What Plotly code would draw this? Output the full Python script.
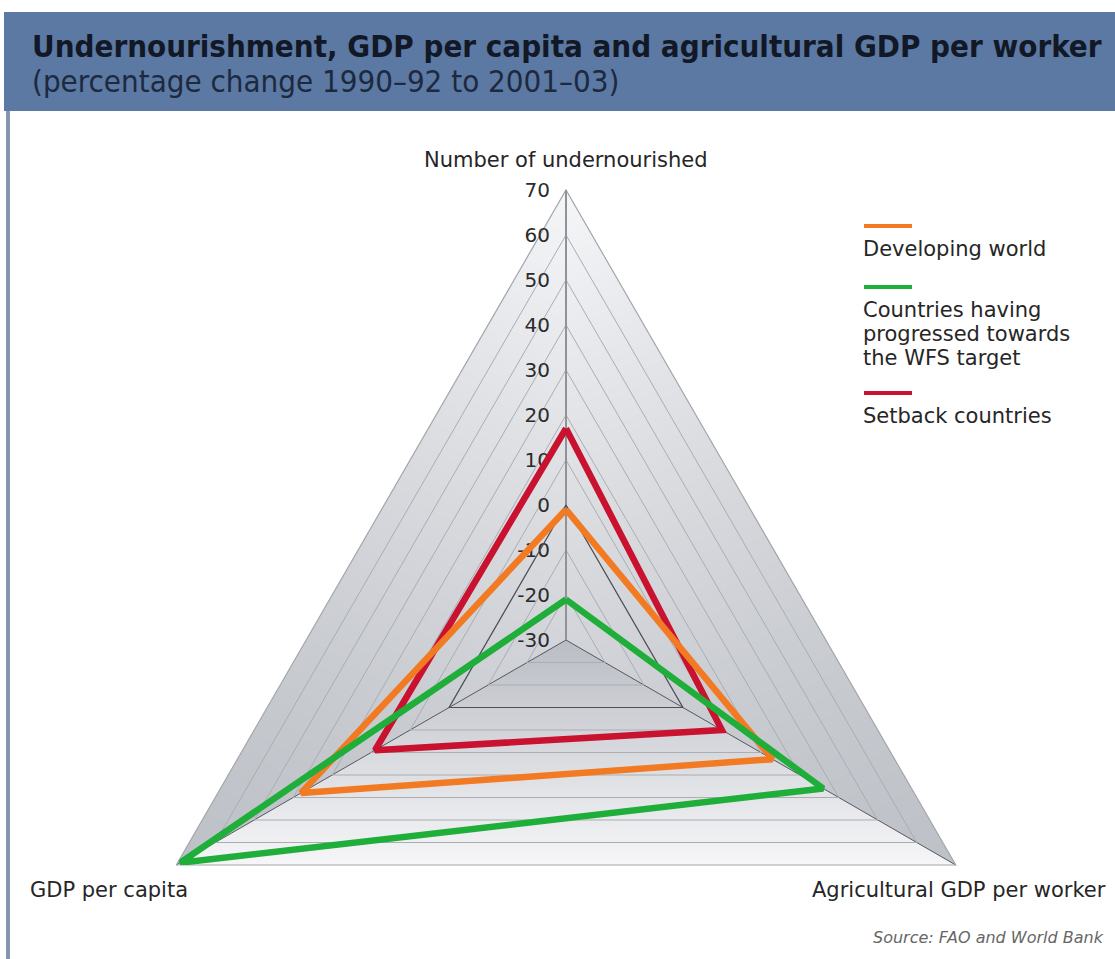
import base64
import struct
import zlib

import numpy as np
import plotly.graph_objects as go

# Radar axes, clockwise from the top
categories = ["Number of undernourished", "Agricultural GDP per worker", "GDP per capita"]

# Percentage change 1990-92 to 2001-03, one value per axis
developing_world = [-1, 23, 38]
progressed_wfs = [-21, 36, 69]
setback_countries = [17, 10, 19]

series_names = [
    "Developing world",
    "Countries having<br>progressed towards<br>the WFS target",
    "Setback countries",
]
radial_ticks = list(range(-30, 71, 10))
radial_tick_text = [str(v) for v in radial_ticks]

# Page geometry (pixels)
W, H = 1115, 1100
CX, CY, R = 566, 640, 450

COLORS = {"orange": "#f27a22", "green": "#1fae3a", "red": "#c8122f"}
LABEL_FONT = dict(family="DejaVu Sans", size=21, color="#262626")


def px_x(px):
    return px / W


def px_y(py):
    return 1 - py / H


def png_data_uri(rgba):
    h, w, _ = rgba.shape
    raw = b"".join(b"\x00" + rgba[row].tobytes() for row in range(h))

    def chunk(tag, data):
        body = tag + data
        return struct.pack(">I", len(data)) + body + struct.pack(">I", zlib.crc32(body) & 0xFFFFFFFF)

    png = (b"\x89PNG\r\n\x1a\n"
           + chunk(b"IHDR", struct.pack(">IIBBBBB", w, h, 8, 6, 0, 0, 0))
           + chunk(b"IDAT", zlib.compress(raw, 9))
           + chunk(b"IEND", b""))
    return "data:image/png;base64," + base64.b64encode(png).decode()


def plot_area_shading():
    """Grey shading of the triangular plot area, one gradient per sector."""
    c30 = np.sqrt(3) / 2
    x0, y0 = CX - 391, CY - R - 1
    w, h = 782, int(1.5 * R) + 3
    X, Y = np.meshgrid(x0 + np.arange(w) + 0.5 - CX, CY - (y0 + np.arange(h) + 0.5))
    edge = np.maximum.reduce([-Y, X * c30 + Y * 0.5, -X * c30 + Y * 0.5])
    alpha = np.clip(R / 2 - edge + 0.5, 0, 1)
    ang = np.degrees(np.arctan2(Y, X)) % 360
    bottom = (ang >= 210) & (ang < 330)
    left = (ang >= 90) & (ang < 210)
    t_bottom = np.clip(-Y / (R / 2), 0, 1)
    along = np.where(left, 0.5 * X + c30 * Y, -0.5 * X + c30 * Y)
    t_side = np.clip((along / (R * c30) + 1) / 2, 0, 1) ** 1.4
    dark_b, light_b = np.array([186, 189, 196]), np.array([246, 246, 248])
    dark_s, light_s = np.array([190, 193, 199]), np.array([245, 246, 248])
    col = np.where(bottom[..., None],
                   dark_b + (light_b - dark_b) * t_bottom[..., None],
                   dark_s + (light_s - dark_s) * t_side[..., None])
    rgba = np.dstack([col, alpha * 255]).round().clip(0, 255).astype(np.uint8)
    return dict(source=png_data_uri(rgba), xref="paper", yref="paper",
                x=px_x(x0), y=px_y(y0), sizex=w / W, sizey=h / H,
                xanchor="left", yanchor="top", sizing="stretch", layer="below")


def closed(values):
    return list(values) + [values[0]]


theta = closed(categories)
fig = go.Figure()

# Emphasised zero line of the radial scale
fig.add_trace(go.Scatterpolar(
    r=closed([0] * len(categories)), theta=theta, mode="lines",
    line=dict(color="#4d5056", width=1.2), hoverinfo="skip", showlegend=False))

series = [
    (series_names[2], setback_countries, COLORS["red"]),
    (series_names[0], developing_world, COLORS["orange"]),
    (series_names[1], progressed_wfs, COLORS["green"]),
]
for name, values, color in series:
    fig.add_trace(go.Scatterpolar(
        r=closed(values), theta=theta, mode="lines", name=name.replace("<br>", " "),
        line=dict(color=color, width=6.5), showlegend=False))

annotations = []
# Title bar text
annotations.append(dict(
    text="<b>Undernourishment, GDP per capita and agricultural GDP per worker</b>",
    x=px_x(30), y=px_y(46), xanchor="left", yanchor="middle", showarrow=False,
    font=dict(family="DejaVu Sans Condensed", size=31, color="#121826")))
annotations.append(dict(
    text="(percentage change 1990–92 to 2001–03)",
    x=px_x(30), y=px_y(81), xanchor="left", yanchor="middle", showarrow=False,
    font=dict(family="DejaVu Sans Condensed", size=31, color="#1d2940")))

# Axis names at the vertices
axis_label_pos = {
    categories[0]: (CX, 160, "center"),
    categories[1]: (1108, 890, "right"),
    categories[2]: (28, 890, "left"),
}
for cat in categories:
    x, y, anchor = axis_label_pos[cat]
    annotations.append(dict(text=cat, x=px_x(x), y=px_y(y), xanchor=anchor, yanchor="middle",
                            showarrow=False, font=LABEL_FONT))

# Legend: short swatch above each label
shapes = []
legend_rows = [
    (series_names[0], COLORS["orange"], 226),
    (series_names[1], COLORS["green"], 287),
    (series_names[2], COLORS["red"], 393),
]
for name, color, sy in legend_rows:
    shapes.append(dict(type="line", xref="paper", yref="paper",
                       x0=px_x(864), x1=px_x(912), y0=px_y(sy), y1=px_y(sy),
                       line=dict(color=color, width=4)))
    for i, line_text in enumerate(name.split("<br>")):
        annotations.append(dict(text=line_text, x=px_x(861), y=px_y(sy + 23 + 24 * i),
                                xanchor="left", yanchor="middle", showarrow=False,
                                font=LABEL_FONT))

annotations.append(dict(
    text="<i>Source: FAO and World Bank</i>", x=px_x(1106), y=px_y(937),
    xanchor="right", yanchor="middle", showarrow=False,
    font=dict(family="DejaVu Sans", size=16, color="#666666")))

# Title bar and left frame rule
shapes.append(dict(type="rect", xref="paper", yref="paper", layer="below",
                   x0=px_x(4), x1=px_x(W), y0=px_y(111), y1=px_y(12),
                   fillcolor="#5b79a2", line=dict(width=0)))
shapes.append(dict(type="line", xref="paper", yref="paper",
                   x0=px_x(8), x1=px_x(8), y0=px_y(111), y1=px_y(959),
                   line=dict(color="#8796b0", width=4)))

fig.update_layout(
    width=W, height=H,
    margin=dict(l=0, r=0, t=0, b=0),
    paper_bgcolor="white",
    showlegend=False,
    polar=dict(
        domain=dict(x=[px_x(CX - R), px_x(CX + R)], y=[px_y(CY + R), px_y(CY - R)]),
        bgcolor="rgba(0,0,0,0)",
        gridshape="linear",
        angularaxis=dict(
            type="category", categoryorder="array", categoryarray=categories,
            rotation=90, direction="clockwise",
            showline=True, linecolor="#a3a6ab", linewidth=1.2,
            showgrid=True, gridcolor="#55585e", gridwidth=1,
            showticklabels=False, ticks="", layer="below traces"),
        radialaxis=dict(
            range=[-30, 70], tickvals=radial_ticks, ticktext=radial_tick_text,
            angle=90, side="counterclockwise",
            showline=True, linecolor="#8f9297", linewidth=2,
            showgrid=True, gridcolor="#aaadb2", gridwidth=1,
            ticks="outside", ticklen=8, tickcolor="rgba(0,0,0,0)", tickangle=90,
            tickfont=dict(family="DejaVu Sans", size=20, color="#2b2b2b"),
            layer="below traces"),
    ),
    images=[plot_area_shading()],
    annotations=annotations,
    shapes=shapes,
)

fig.write_html(
    "out.html",
    post_script="document.documentElement.style.overflow='hidden';"
                "document.body.style.overflow='hidden';",
)
